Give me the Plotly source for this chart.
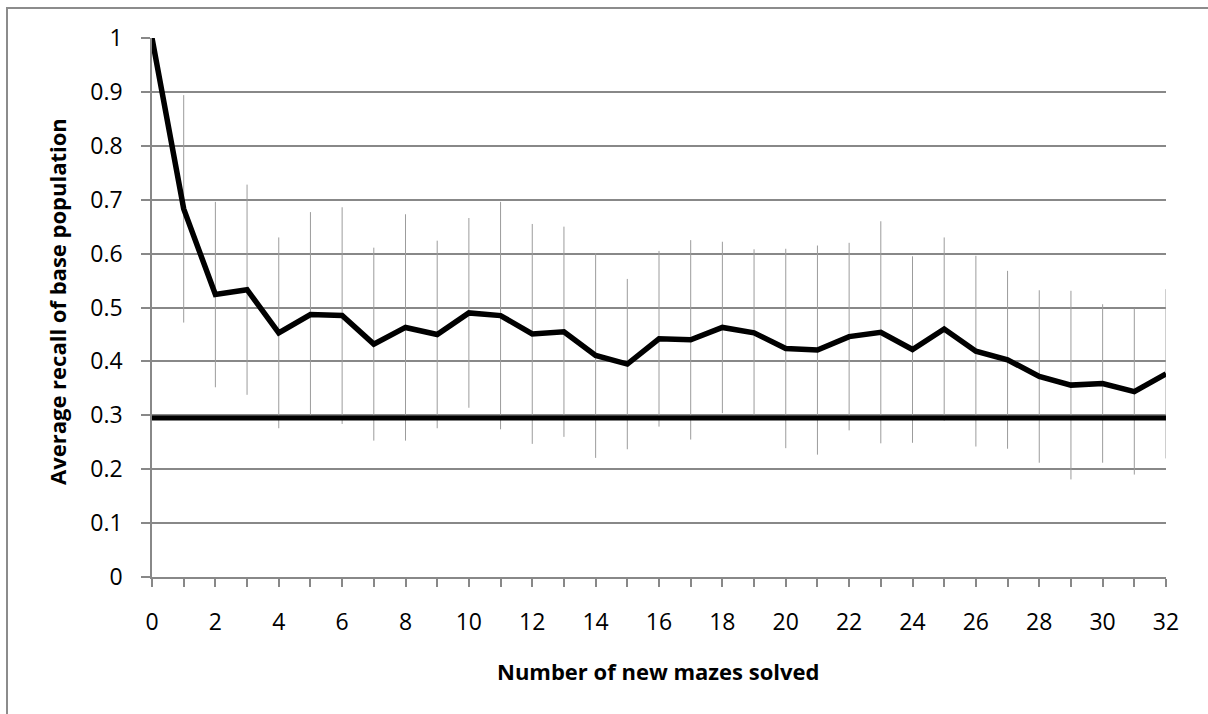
import plotly.graph_objects as go

# ---- data ----
mazes_solved = list(range(33))
mean_recall = [1.0, 0.683, 0.524, 0.533, 0.453, 0.487, 0.485, 0.432, 0.463, 0.450,
               0.490, 0.485, 0.451, 0.455, 0.411, 0.395, 0.442, 0.440, 0.463, 0.453,
               0.424, 0.421, 0.446, 0.454, 0.422, 0.460, 0.419, 0.403, 0.372, 0.356,
               0.359, 0.344, 0.377]
recall_err = [0.0, 0.211, 0.172, 0.195, 0.177, 0.190, 0.201, 0.179, 0.210, 0.174,
              0.176, 0.211, 0.204, 0.195, 0.190, 0.158, 0.163, 0.185, 0.159, 0.155,
              0.185, 0.194, 0.174, 0.206, 0.173, 0.170, 0.177, 0.165, 0.160, 0.175,
              0.147, 0.154, 0.157]
baseline_value = 0.295
baseline = [baseline_value] * len(mazes_solved)
x_tick_labels = [str(v) if v % 2 == 0 else "" for v in mazes_solved]
y_tick_vals = [0, 0.1, 0.2, 0.3, 0.4, 0.5, 0.6, 0.7, 0.8, 0.9, 1]
y_tick_labels = ["0", "0.1", "0.2", "0.3", "0.4", "0.5", "0.6", "0.7", "0.8", "0.9", "1"]

FONT = "Open Sans"
GRID = "#888888"

fig = go.Figure()

# error bars (drawn first, beneath the lines)
fig.add_trace(go.Scatter(
    x=mazes_solved, y=mean_recall, mode="markers",
    marker=dict(size=0.1, color="rgba(0,0,0,0)"),
    error_y=dict(type="data", array=recall_err, visible=True,
                 color="#9c9c9c", thickness=1, width=0),
    showlegend=False, hoverinfo="skip"))

# baseline
fig.add_trace(go.Scatter(
    x=mazes_solved, y=baseline, mode="lines",
    line=dict(color="black", width=5), showlegend=False))

# mean recall
fig.add_trace(go.Scatter(
    x=mazes_solved, y=mean_recall, mode="lines",
    line=dict(color="black", width=5.5), showlegend=False))

L, R, T, B = 152, 42, 38, 137
W, H = 1208, 714
pw, ph = W - L - R, H - T - B

fig.update_layout(
    width=W, height=H,
    margin=dict(l=L, r=R, t=T, b=B, pad=0),
    paper_bgcolor="white", plot_bgcolor="white",
    font=dict(family=FONT, size=23, color="black"),
    xaxis=dict(
        range=[0, 32], tickmode="array", tickvals=mazes_solved, ticktext=x_tick_labels,
        showgrid=False, zeroline=False,
        showline=True, linecolor=GRID, linewidth=1.5,
        ticks="outside", ticklen=8, tickwidth=1.5, tickcolor=GRID,
        ticklabelstandoff=16, tickfont=dict(family=FONT, size=23, color="black"),
    ),
    yaxis=dict(
        range=[0, 1], tickmode="array", tickvals=y_tick_vals, ticktext=y_tick_labels,
        showgrid=True, gridcolor=GRID, gridwidth=1.5, zeroline=False,
        showline=True, linecolor=GRID, linewidth=1.5,
        ticks="outside", ticklen=9, tickwidth=1.5, tickcolor=GRID,
        ticklabelstandoff=14, tickfont=dict(family=FONT, size=23, color="black"),
    ),
    annotations=[
        dict(text="<b>Number of new mazes solved</b>", xref="paper", yref="paper",
             x=(658 - L) / pw, y=(H - B - 671) / ph, xanchor="center", yanchor="middle",
             showarrow=False, font=dict(family=FONT, size=22, color="black")),
        dict(text="<b>Average recall of base population</b>", xref="paper", yref="paper",
             x=(57 - L) / pw, y=(H - B - 302) / ph, xanchor="center", yanchor="middle",
             textangle=-90, showarrow=False, font=dict(family=FONT, size=22, color="black")),
    ],
    shapes=[
        dict(type="rect", xref="paper", yref="paper",
             x0=(7 - L) / pw, x1=(W + 20 - L) / pw,
             y0=(H - B - (H + 20)) / ph, y1=(H - B - 8) / ph,
             line=dict(color="#8c8c8c", width=2), fillcolor="rgba(0,0,0,0)", layer="below"),
    ],
)

fig.write_html("out.html")
